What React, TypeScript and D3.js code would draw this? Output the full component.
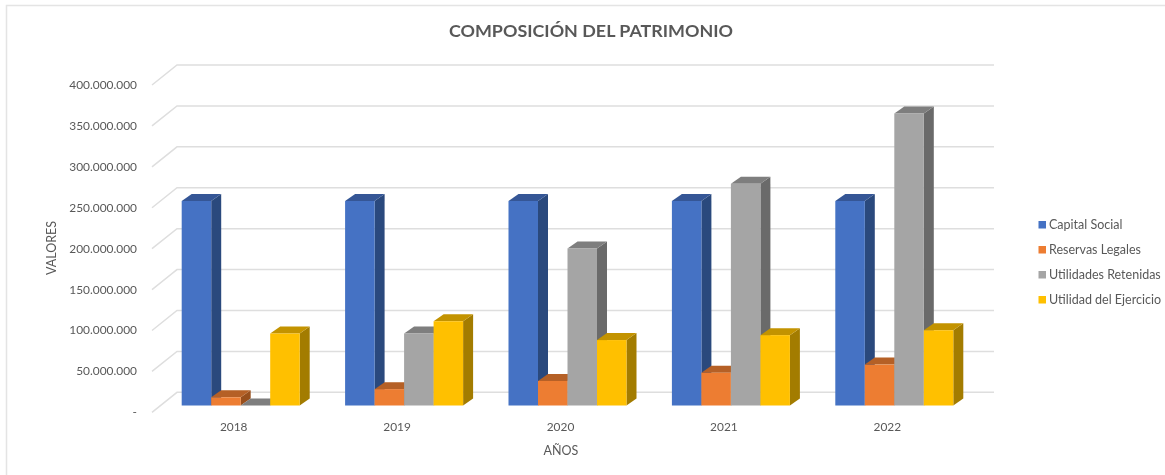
import React from "react";
import * as d3 from "d3";

const years = ["2018", "2019", "2020", "2021", "2022"];
const seriesNames = ["Capital Social", "Reservas Legales", "Utilidades Retenidas", "Utilidad del Ejercicio"];
const capitalSocial = [250, 250, 250, 250, 250];
const reservasLegales = [10, 20, 30, 40, 50];
const utilidadesRetenidas = [0, 88, 192, 271, 357];
const utilidadEjercicio = [88, 103, 80, 86, 92];
const seriesValues = [capitalSocial, reservasLegales, utilidadesRetenidas, utilidadEjercicio];
const frontColors = ["#4472c4", "#ed7d31", "#a5a5a5", "#ffc000"];
const tickValues = [0, 50, 100, 150, 200, 250, 300, 350, 400];
const tickLabels = ["-", "50.000.000", "100.000.000", "150.000.000", "200.000.000", "250.000.000", "300.000.000", "350.000.000", "400.000.000"];

const FONT = "Lato, 'Open Sans', sans-serif";
const TXT = "#595959";
const WALL_DX = 25;
const WALL_DY = 20;
const BAR_DX = 10;
const BAR_DY = 7;

export default function App() {
  const floorY = d3.scaleLinear().domain([0, 400]).range([412.3, 85]);
  const barY = d3.scaleLinear().domain([0, 400]).range([405.5, 78.3]);
  const x0 = d3.scaleBand().domain(years).range([152, 969]);
  const x1 = d3.scaleBand().domain(seriesNames).range([-59, 59]);
  const legendY = d3.scalePoint().domain(seriesNames).range([225, 300]);
  const shade = (c: string, k: number) => d3.color(c)!.darker(k).formatHex();

  return (
    <svg width={1165} height={475} style={{ position: "absolute", left: 0, top: 0, background: "#fff" }} fontFamily={FONT}>
      <defs>
        <filter id="soft" x="-5%" y="-5%" width="110%" height="110%">
          <feGaussianBlur stdDeviation="0.45" />
        </filter>
      </defs>
      <path d="M6.5 475V5.5H1165" fill="none" stroke="#e4e4e4" strokeWidth={1.5} />
      <g filter="url(#soft)">
        <text x={591} y={36.5} textAnchor="middle" fontSize={17.9} fontWeight={700} fill={TXT}>COMPOSICIÓN DEL PATRIMONIO</text>

        {tickValues.map((t, i) => (
          <g key={t}>
            <path
              d={`M${152} ${floorY(t)}L${152 + WALL_DX} ${floorY(t) - WALL_DY}H994`}
              fill="none" stroke="#dedede" strokeWidth={1.5}
            />
            <text x={137} y={floorY(t) + 4} textAnchor="end" fontSize={11.9} fill={TXT}>{tickLabels[i]}</text>
          </g>
        ))}

        {years.map((y, yi) => {
          const cx = x0(y)! + x0.bandwidth() / 2 + 7;
          return (
            <g key={y}>
              {seriesNames.map((s, si) => {
                const v = seriesValues[si][yi];
                const c = frontColors[si];
                const xa = cx + x1(s)!;
                const w = x1.bandwidth();
                const top = barY(v);
                const base = barY(0);
                return (
                  <g key={s}>
                    <path d={`M${xa + w} ${top}l${BAR_DX} ${-BAR_DY}V${base - BAR_DY}l${-BAR_DX} ${BAR_DY}Z`} fill={shade(c, 1.25)} />
                    <path d={`M${xa} ${top}l${BAR_DX} ${-BAR_DY}h${w}l${-BAR_DX} ${BAR_DY}Z`} fill={shade(c, 0.75)} />
                    <rect x={xa} y={top} width={w} height={base - top} fill={c} />
                  </g>
                );
              })}
              <text x={x0(y)! + x0.bandwidth() / 2} y={431} textAnchor="middle" fontSize={11.9} fill={TXT}>{y}</text>
            </g>
          );
        })}

        <text x={561} y={455} textAnchor="middle" fontSize={12.5} fill={TXT}>AÑOS</text>
        <text transform="translate(56,248) rotate(-90)" textAnchor="middle" fontSize={12.5} fill={TXT}>VALORES</text>

        {seriesNames.map((s, i) => (
          <g key={s}>
            <rect x={1038.5} y={legendY(s)! - 4} width={7.5} height={7.5} fill={frontColors[i]} />
            <text x={1049} y={legendY(s)! + 4} fontSize={12.5} fill={TXT}>{s}</text>
          </g>
        ))}
      </g>
    </svg>
  );
}
